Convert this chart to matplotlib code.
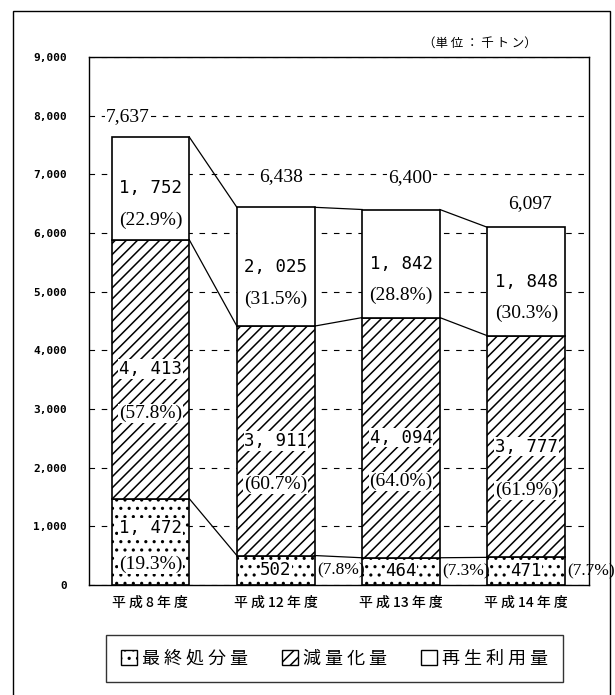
import numpy as np
import matplotlib
matplotlib.use('Agg')
import matplotlib.pyplot as plt
from matplotlib.patches import Patch, Rectangle

plt.rcParams['font.family'] = ['Noto Sans CJK JP', 'DejaVu Sans']
plt.rcParams['hatch.linewidth'] = 1.1

# data (千トン)
years = ['平成8年度', '平成12年度', '平成13年度', '平成14年度']
final_disposal = [1472, 502, 464, 471]       # 最終処分量
reduction = [4413, 3911, 4094, 3777]         # 減量化量
recycling = [1752, 2025, 1842, 1848]         # 再生利用量
totals = [7637, 6438, 6400, 6097]
pct_final = [19.3, 7.8, 7.3, 7.7]
pct_reduction = [57.8, 60.7, 64.0, 61.9]
pct_recycling = [22.9, 31.5, 28.8, 30.3]
legend_labels = ['最終処分量', '減量化量', '再生利用量']

# layout tweaks for the total labels
total_gap = [340, 520, 550, 410]
total_dx = [-0.18, 0.04, 0.07, 0.03]


def spaced(s):
    out = ''
    for i, ch in enumerate(s):
        if i > 0 and not (ch.isdigit() and s[i - 1].isdigit()):
            out += ' '
        out += ch
    return out


def fmt(v):
    return f'{v:,}'.replace(',', ', ')


fig = plt.figure(figsize=(6.15, 6.95), dpi=100)
fig.patch.set_facecolor('white')
ax = fig.add_axes([0.1447, 0.1583, 0.813, 0.7597])

x = np.arange(len(years))
w = 0.62
fd = np.array(final_disposal)
rd = np.array(reduction)
rc = np.array(recycling)

bar_kw = dict(width=w, color='white', edgecolor='black', linewidth=1.2, zorder=2)
ax.bar(x, fd, hatch='..', **bar_kw)
ax.bar(x, rd, bottom=fd, hatch='///', **bar_kw)
ax.bar(x, rc, bottom=fd + rd, **bar_kw)

# connecting lines between bars
for lvl in [fd, fd + rd, fd + rd + rc]:
    for i in range(len(x) - 1):
        ax.plot([x[i] + w / 2, x[i + 1] - w / 2], [lvl[i], lvl[i + 1]],
                color='black', lw=0.9, zorder=3)

num_font = dict(family='DejaVu Sans Mono', fontsize=12.5, ha='center', va='center', zorder=5)
pct_font = dict(family='Liberation Serif', fontsize=14, ha='center', va='center', zorder=5)
white_box = dict(facecolor='white', edgecolor='none', pad=0.5)

for i in range(len(x)):
    # top: 再生利用量
    mid = fd[i] + rd[i] + rc[i] / 2
    ax.text(x[i], mid, fmt(rc[i]), **num_font)
    ax.text(x[i], mid - 550, f'({pct_recycling[i]:.1f}%)', **pct_font)
    # middle: 減量化量
    mid = fd[i] + rd[i] / 2
    ax.text(x[i], mid, fmt(rd[i]), bbox=white_box, **num_font)
    ax.text(x[i], mid - 750, f'({pct_reduction[i]:.1f}%)', bbox=white_box, **pct_font)
    # bottom: 最終処分量
    mid = fd[i] / 2
    if fd[i] > 1000:
        ax.text(x[i], mid + 240, fmt(fd[i]), bbox=white_box, **num_font)
        ax.text(x[i], mid - 390, f'({pct_final[i]:.1f}%)', bbox=white_box, **pct_font)
    else:
        ax.text(x[i], mid, fmt(fd[i]), bbox=dict(facecolor='white', edgecolor='none', pad=0.2),
                **num_font)
        ax.text(x[i] + w / 2 + 0.02, mid, f'({pct_final[i]:.1f}%)', family='Liberation Serif',
                fontsize=12.5, ha='left', va='center', zorder=5)
    # total
    ax.text(x[i] + total_dx[i], totals[i] + total_gap[i], f'{totals[i]:,}',
            family='Liberation Serif', fontsize=14, ha='center', va='center',
            bbox=white_box, zorder=5)

ax.set_xlim(-0.49, 3.5)
ax.set_ylim(0, 9000)
ax.set_yticks(range(0, 9001, 1000))
ax.set_yticklabels([f'{v:,}' for v in range(0, 9001, 1000)],
                   family='DejaVu Sans Mono', fontsize=8, fontweight='bold')
ax.yaxis.grid(True, linestyle=(0, (5, 6)), color='black', lw=0.8)
ax.set_axisbelow(True)
ax.tick_params(axis='y', length=0, pad=16)

ax.set_xticks(x)
ax.set_xticklabels([spaced(s) for s in years], fontsize=10, fontweight='medium')
ax.tick_params(axis='x', length=0, pad=8)

for sp in ax.spines.values():
    sp.set_linewidth(1.0)
    sp.set_color('black')

fig.text(0.873, 0.938, '（単 位 ： 千 ト ン）', fontsize=9, ha='right', va='center')

handles = [Patch(facecolor='white', edgecolor='black', hatch='..'),
           Patch(facecolor='white', edgecolor='black', hatch='///'),
           Patch(facecolor='white', edgecolor='black')]
leg = fig.legend(handles, [spaced(s) for s in legend_labels], loc='center',
                 bbox_to_anchor=(0.158, 0.0144, 0.772, 0.0762), mode='expand',
                 ncol=3, fontsize=13, frameon=True, fancybox=False, edgecolor='black',
                 handlelength=0.9, handleheight=0.9, handletextpad=0.3,
                 columnspacing=1.2, borderpad=0.8)
leg.get_frame().set_linewidth(1.0)

# outer frame
fig.add_artist(Rectangle((13 / 615, -0.01), (610 - 13) / 615, (695 - 11) / 695 + 0.01,
                         transform=fig.transFigure, fill=False, edgecolor='black', lw=1.0))

fig.savefig('out.png', dpi=100)
